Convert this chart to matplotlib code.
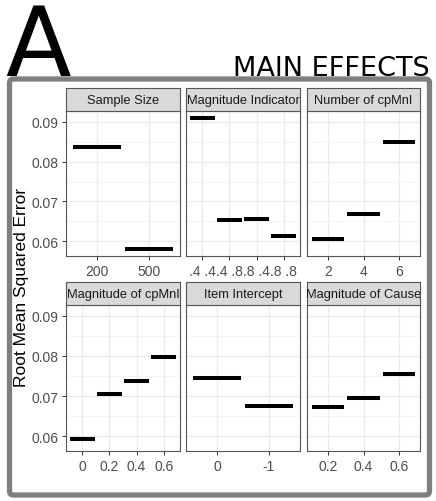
import numpy as np
import matplotlib
matplotlib.use("Agg")
import matplotlib.pyplot as plt
from matplotlib.patches import FancyBboxPatch

# --------------------------------------------
# DATA (RMSE by factor level)
# --------------------------------------------
sample_size_lab = ["200", "500"]
sample_size_val = [0.0837, 0.0580]

mag_indicator_lab = [".4 .4", ".4 .8", ".8 .4", ".8 .8"]
mag_indicator_val = [0.0910, 0.0654, 0.0657, 0.0614]

n_cpmni_lab = ["2", "4", "6"]
n_cpmni_val = [0.0605, 0.0668, 0.0850]

mag_cpmni_lab = ["0", "0.2", "0.4", "0.6"]
mag_cpmni_val = [0.0593, 0.0704, 0.0737, 0.0797]

intercept_lab = ["0", "-1"]
intercept_val = [0.0744, 0.0676]

mag_cause_lab = ["0.2", "0.4", "0.6"]
mag_cause_val = [0.0673, 0.0695, 0.0754]

panels = [
    ("Sample Size", sample_size_lab, sample_size_val),
    ("Magnitude Indicator", mag_indicator_lab, mag_indicator_val),
    ("Number of cpMnI", n_cpmni_lab, n_cpmni_val),
    ("Magnitude of cpMnI", mag_cpmni_lab, mag_cpmni_val),
    ("Item Intercept", intercept_lab, intercept_val),
    ("Magnitude of Cause", mag_cause_lab, mag_cause_val),
]

# --------------------------------------------
# LAYOUT (pixels, measured from the top-left)
# --------------------------------------------
W, H = 436, 502
fig = plt.figure(figsize=(W / 100, H / 100), dpi=100)
plt.rcParams["font.family"] = ["Liberation Sans", "DejaVu Sans"]

cols = [(66, 180), (186, 300), (307, 420)]
rows = [(89, 112, 257), (283, 306, 452)]  # strip top, panel top, panel bottom


def px_rect(x0, y0, x1, y1):
    return [x0 / W, 1 - y1 / H, (x1 - x0) / W, (y1 - y0) / H]


all_vals = np.concatenate([np.asarray(p[2]) for p in panels])
rng = all_vals.max() - all_vals.min()
ylo, yhi = all_vals.min() - 0.05 * rng, all_vals.max() + 0.05 * rng

border = "#555555"
for i, (title, labs, vals) in enumerate(panels):
    r, c = divmod(i, 3)
    x0, x1 = cols[c]
    st, pt, pb = rows[r]

    ax = fig.add_axes(px_rect(x0, pt, x1, pb))
    n = len(labs)
    pos = np.arange(1, n + 1)
    ax.hlines(vals, pos - 0.46, pos + 0.46, colors="black", linewidth=2.9,
              zorder=3)
    ax.set_xlim(0.4, n + 0.6)
    ax.set_ylim(ylo, yhi)
    ax.set_xticks(pos)
    ax.set_xticklabels(labs)
    ax.set_yticks([0.06, 0.07, 0.08, 0.09])
    ax.set_yticks([0.065, 0.075, 0.085], minor=True)
    ax.grid(True, which="major", color="#ebebeb", linewidth=1.0, zorder=0)
    ax.grid(True, which="minor", axis="y", color="#f2f2f2", linewidth=0.6,
            zorder=0)
    ax.set_axisbelow(True)
    ax.tick_params(axis="both", which="major", length=3, width=0.7,
                   color="#333333", labelcolor="#4d4d4d", labelsize=10,
                   pad=2.5)
    ax.tick_params(which="minor", length=0)
    for s in ax.spines.values():
        s.set_color(border)
        s.set_linewidth(0.8)
    if c == 0:
        ax.set_yticklabels(["0.06", "0.07", "0.08", "0.09"])
    else:
        ax.tick_params(axis="y", length=0, labelleft=False)

    # facet strip
    sx = fig.add_axes(px_rect(x0, st, x1, pt))
    sx.set_facecolor("#d9d9d9")
    sx.set_xticks([])
    sx.set_yticks([])
    for s in sx.spines.values():
        s.set_color(border)
        s.set_linewidth(0.8)
    sx.text(0.5, 0.47, title, ha="center", va="center", fontsize=9.3,
            color="#1a1a1a", transform=sx.transAxes, clip_on=True)

fig.text(22 / W, 1 - 287 / H, "Root Mean Squared Error", rotation=90,
         ha="center", va="center", fontsize=12.5, color="black")

# outer frame
frame = FancyBboxPatch((9.5 / 100, (H - 496) / 100), 4.20, 4.16,
                       boxstyle="round,pad=0,rounding_size=0.04",
                       transform=fig.dpi_scale_trans, facecolor="none",
                       edgecolor="#7f7f7f", linewidth=3.8, zorder=-1)
fig.add_artist(frame)

fig.text(5 / W, 1 - 76 / H, "A", fontsize=69, family="DejaVu Sans",
         ha="left", va="baseline")
fig.text(430 / W, 1 - 76 / H, "MAIN EFFECTS", fontsize=19.5,
         family="DejaVu Sans", ha="right", va="baseline")

fig.savefig("out.png", dpi=100)
